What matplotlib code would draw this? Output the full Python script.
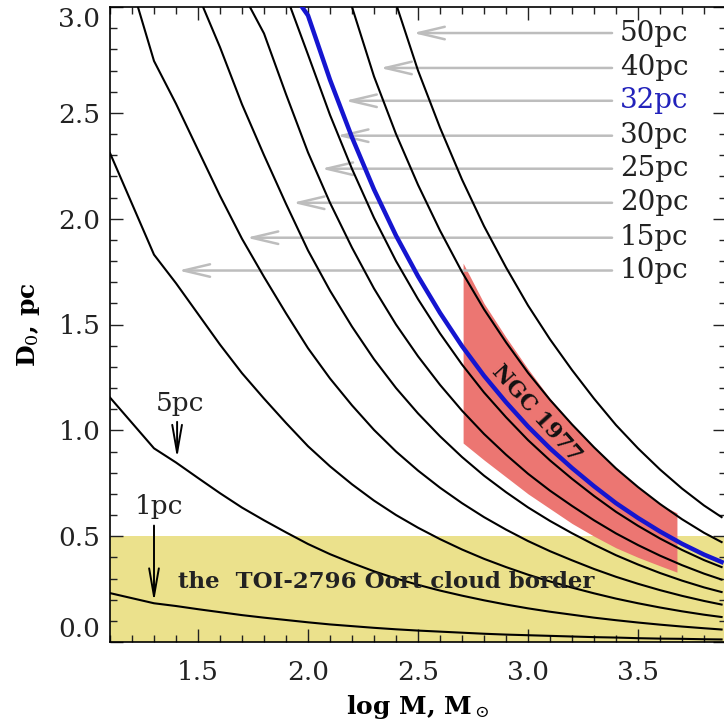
import numpy as np
import matplotlib
matplotlib.use('Agg')
import matplotlib.pyplot as plt
from matplotlib.ticker import MultipleLocator, FormatStrFormatter

# log M grid (Msun) used for the reading of the curves
logm = [1.1, 1.2, 1.3, 1.4, 1.5, 1.6, 1.7, 1.8, 1.9, 2.0, 2.1, 2.2, 2.3, 2.4,
        2.5, 2.6, 2.7, 2.8, 2.9, 3.0, 3.1, 3.2, 3.3, 3.4, 3.5, 3.6, 3.7, 3.8, 3.88]

# D0 (pc) for each distance
d1 = [0.231, 0.207, 0.183, 0.170, 0.155, 0.141, 0.127, 0.115, 0.104, 0.093,
      0.083, 0.075, 0.067, 0.060, 0.054, 0.049, 0.044, 0.039, 0.035, 0.032,
      0.029, 0.026, 0.023, 0.021, 0.018, 0.016, 0.015, 0.013, 0.012]
d5 = [1.155, 1.035, 0.915, 0.848, 0.775, 0.703, 0.635, 0.575, 0.518, 0.463,
      0.415, 0.373, 0.334, 0.30, 0.27, 0.243, 0.219, 0.197, 0.177, 0.159,
      0.143, 0.129, 0.115, 0.103, 0.092, 0.082, 0.073, 0.065, 0.059]
d10 = [2.31, 2.07, 1.83, 1.695, 1.55, 1.405, 1.27, 1.15, 1.035, 0.925,
       0.83, 0.745, 0.668, 0.60, 0.54, 0.486, 0.437, 0.393, 0.354, 0.318,
       0.286, 0.257, 0.23, 0.205, 0.183, 0.163, 0.145, 0.129, 0.118]
# curves leaving the top of the frame: values on the tail of logm
d15 = [2.745, 2.543, 2.325, 2.108, 1.905, 1.725, 1.553, 1.388, 1.245, 1.118,
       1.002, 0.90, 0.81, 0.729, 0.656, 0.590, 0.531, 0.477, 0.429, 0.386,
       0.345, 0.308, 0.275, 0.245, 0.218, 0.194, 0.177]
d20 = [2.81, 2.54, 2.30, 2.07, 1.85, 1.66, 1.49, 1.336, 1.20, 1.08, 0.972,
       0.874, 0.786, 0.708, 0.636, 0.572, 0.514, 0.46, 0.41, 0.366, 0.326,
       0.29, 0.258, 0.236]
d25 = [2.875, 2.588, 2.313, 2.075, 1.863, 1.67, 1.50, 1.35, 1.215, 1.093,
       0.983, 0.885, 0.795, 0.715, 0.643, 0.575, 0.513, 0.458, 0.408, 0.363,
       0.323, 0.295]
d30 = [2.775, 2.49, 2.235, 2.004, 1.80, 1.62, 1.458, 1.311, 1.179, 1.062,
       0.954, 0.858, 0.771, 0.69, 0.615, 0.549, 0.489, 0.435, 0.387, 0.354]
d32 = [2.96, 2.656, 2.384, 2.138, 1.92, 1.728, 1.555, 1.398, 1.258, 1.133,
       1.018, 0.915, 0.822, 0.736, 0.656, 0.586, 0.522, 0.464, 0.413, 0.378]
d40 = [2.672, 2.40, 2.16, 1.944, 1.748, 1.572, 1.416, 1.272, 1.144, 1.028,
       0.92, 0.82, 0.732, 0.652, 0.58, 0.516, 0.472]
d50 = [2.70, 2.43, 2.185, 1.965, 1.77, 1.59, 1.43, 1.285, 1.15, 1.025,
       0.915, 0.815, 0.725, 0.645, 0.59]
# log M where each of these curves crosses D0 = 3.0
top_entry = {15: 1.227, 20: 1.523, 25: 1.736, 30: 1.92, 32: 1.973, 40: 2.2, 50: 2.405}

# NGC 1977 region
ngc_x = [2.705, 2.8, 2.9, 3.0, 3.1, 3.2, 3.3, 3.4, 3.5, 3.6, 3.677]
ngc_upper = [1.79, 1.60, 1.44, 1.29, 1.15, 1.03, 0.92, 0.82, 0.73, 0.65, 0.61]
ngc_lower = [0.94, 0.86, 0.78, 0.70, 0.63, 0.56, 0.50, 0.445, 0.40, 0.36, 0.33]

# labels with grey arrows
lab_names = ['50pc', '40pc', '32pc', '30pc', '25pc', '20pc', '15pc', '10pc']
lab_y = [2.877, 2.712, 2.557, 2.392, 2.236, 2.075, 1.91, 1.755]
lab_head = [2.477, 2.327, 2.168, 2.13, 2.06, 1.93, 1.72, 1.41]

oort_border = 0.5

plt.rcParams['font.family'] = ['DejaVu Serif']
plt.rcParams['mathtext.fontset'] = 'dejavuserif'

fig = plt.figure(figsize=(7.24, 7.27), dpi=100)
ax = fig.add_axes([110 / 724, 85 / 727, 616 / 724, 635 / 727])

ax.axhspan(0, oort_border, color='#ebe18c', lw=0, zorder=0.5)
ax.fill_between(ngc_x, ngc_lower, ngc_upper, color='#ec7672', lw=0, zorder=1)

for d in (d1, d5, d10):
    ax.plot(logm, d, color='black', lw=1.5, zorder=3)
for r, d in ((15, d15), (20, d20), (25, d25), (30, d30), (40, d40), (50, d50)):
    ax.plot([top_entry[r]] + logm[-len(d):], [3.0] + d, color='black', lw=1.5, zorder=3)
ax.plot([top_entry[32]] + logm[-len(d32):], [3.0] + d32, color='#1515d0', lw=3.2, zorder=4)

for name, y, hx in zip(lab_names, lab_y, lab_head):
    ax.annotate('', xy=(hx, y), xytext=(3.382, y),
                arrowprops=dict(arrowstyle='->,head_length=1.9,head_width=0.45',
                                color='#bdbdbd', lw=1.8, mutation_scale=10,
                                shrinkA=0, shrinkB=0), zorder=2)
    ax.text(3.418, y, name, ha='left', va='center', fontsize=20,
            color='#2222bb' if name == '32pc' else '#222222', zorder=5)

# 5pc and 1pc markers
ax.annotate('', xy=(1.405, 0.868), xytext=(1.405, 1.04),
            arrowprops=dict(arrowstyle='->,head_length=2.0,head_width=0.35',
                            color='black', lw=1.4, mutation_scale=10,
                            shrinkA=0, shrinkB=0), zorder=5)
ax.text(1.418, 1.125, '5pc', ha='center', va='center', fontsize=19, color='#222222')
ax.annotate('', xy=(1.30, 0.19), xytext=(1.30, 0.55),
            arrowprops=dict(arrowstyle='->,head_length=2.0,head_width=0.35',
                            color='black', lw=1.4, mutation_scale=10,
                            shrinkA=0, shrinkB=0), zorder=5)
ax.text(1.323, 0.64, '1pc', ha='center', va='center', fontsize=19, color='#222222')

ax.text(1.41, 0.285, 'the  TOI-2796 Oort cloud border', ha='left', va='center',
        fontsize=16.5, fontweight='bold', color='#222222', zorder=5)
ax.text(3.04, 1.08, 'NGC 1977', ha='center', va='center', rotation=-48,
        fontsize=15.5, fontweight='bold', color='#111111', zorder=5)

ax.set_xticks([1.5, 2.0, 2.5, 3.0, 3.5])
ax.set_yticks([0.0, 0.5, 1.0, 1.5, 2.0, 2.5, 3.0])
ax.xaxis.set_minor_locator(MultipleLocator(0.1))
ax.yaxis.set_minor_locator(MultipleLocator(0.1))
ax.xaxis.set_major_formatter(FormatStrFormatter('%.1f'))
ax.yaxis.set_major_formatter(FormatStrFormatter('%.1f'))
ax.tick_params(which='both', direction='in', top=True, right=True, width=1.0,
               labelsize=19, colors='#222222')
ax.tick_params(which='major', length=9.5)
ax.tick_params(which='minor', length=5)
ax.tick_params(axis='x', pad=13)
ax.tick_params(axis='y', pad=7)
for s in ax.spines.values():
    s.set_linewidth(1.2)
ax.set_xlim(1.1, 3.9)
ax.set_ylim(0.0, 3.0)

ax.set_xlabel('log M, M$_\\odot$', fontsize=18, fontweight='bold', labelpad=6)
ax.set_ylabel('D$_0$, pc', fontsize=18, fontweight='bold', labelpad=12)

# edge labels sit inside the frame, as in the original
yticks = ax.yaxis.get_major_ticks()
yticks[0].label1.set_verticalalignment('bottom')
yticks[-1].label1.set_verticalalignment('top')

fig.savefig('out.png', dpi=100)
